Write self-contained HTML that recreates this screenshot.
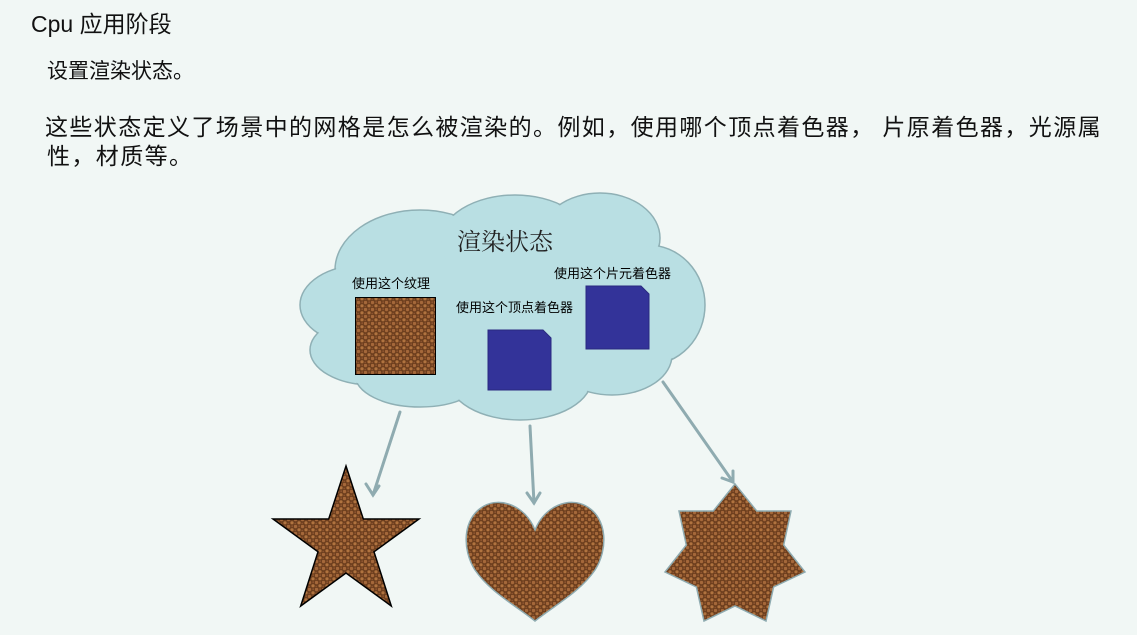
<!DOCTYPE html>
<html><head><meta charset="utf-8"><style>
html,body{margin:0;padding:0;background:#f1f7f5;}
body{width:1137px;height:635px;overflow:hidden;position:relative;font-family:"Liberation Sans","Noto Sans CJK SC",sans-serif;color:#111;}
.t{position:absolute;white-space:nowrap;font-size:20px;line-height:1;}
svg{position:absolute;left:0;top:0;}
</style></head><body>
<svg width="1137" height="635" viewBox="0 0 1137 635">
<defs>
<pattern id="lea" width="7" height="7" patternUnits="userSpaceOnUse">
<rect width="7" height="7" fill="#6e3f1e"/>
<circle cx="1.5" cy="1.5" r="1.7" fill="#a5683a"/>
<circle cx="5" cy="4.8" r="1.6" fill="#b0733f"/>
<circle cx="5.2" cy="1.2" r="0.9" fill="#8e5530"/>
<circle cx="1.2" cy="5.5" r="0.8" fill="#8e5530"/>
</pattern>
</defs>
<g fill="#b9dfe3" stroke="#8fb0b5" stroke-width="1.5">
<ellipse cx="420" cy="270" rx="85" ry="60"/>
<ellipse cx="515" cy="242" rx="75" ry="47"/>
<ellipse cx="600" cy="238" rx="60" ry="45"/>
<ellipse cx="648" cy="305" rx="57" ry="60"/>
<ellipse cx="362" cy="305" rx="62" ry="40"/>
<ellipse cx="372" cy="350" rx="62" ry="35"/>
<ellipse cx="420" cy="375" rx="65" ry="32"/>
<ellipse cx="520" cy="378" rx="72" ry="42"/>
<ellipse cx="612" cy="355" rx="60" ry="40"/>
</g>
<g fill="#b9dfe3">
<ellipse cx="420" cy="270" rx="84" ry="59"/>
<ellipse cx="515" cy="242" rx="74" ry="46"/>
<ellipse cx="600" cy="238" rx="59" ry="44"/>
<ellipse cx="648" cy="305" rx="56" ry="59"/>
<ellipse cx="362" cy="305" rx="61" ry="39"/>
<ellipse cx="372" cy="350" rx="61" ry="34"/>
<ellipse cx="420" cy="375" rx="64" ry="31"/>
<ellipse cx="520" cy="378" rx="71" ry="41"/>
<ellipse cx="612" cy="355" rx="59" ry="39"/>
<rect x="380" y="260" width="260" height="120"/>
</g>
<text x="457" y="250" font-family="'Noto Serif CJK SC',serif" font-size="24" fill="#222">渲染状态</text>
<g font-family="'Noto Sans CJK SC',sans-serif" font-size="13" fill="#000">
<text x="352" y="288">使用这个纹理</text>
<text x="456" y="312">使用这个顶点着色器</text>
<text x="554" y="278">使用这个片元着色器</text>
</g>
<rect x="355.5" y="297.5" width="80" height="77" fill="url(#lea)" stroke="#000" stroke-width="1"/>
<polygon points="488,330 543,330 551,338 551,390 488,390" fill="#333399" stroke="#2a2a80"/>
<polygon points="586,286 641,286 649,294 649,349 586,349" fill="#333399" stroke="#2a2a80"/>
<g stroke="#8fabb0" stroke-width="3" fill="none" stroke-linecap="round">
<line x1="400" y1="412" x2="373" y2="495"/>
<polyline points="366,484 373,495 379,486"/>
<line x1="530" y1="426" x2="534" y2="503"/>
<polyline points="527,493 534,503 540,493"/>
<line x1="663" y1="382" x2="733" y2="482"/>
<polyline points="722,478 733,482 733,471"/>
</g>
<polygon points="346,466 363.3,519 419,519 374,551.8 391.3,606 346,573 300.7,606 318,551.8 273,519 328.7,519" fill="url(#lea)" stroke="#000" stroke-width="1.5"/>
<path d="M535,530 C525,505 500,497 484,506 C462,518 462,550 475,570 C490,592 515,605 535,621 C555,605 580,592 595,570 C608,550 608,518 586,506 C570,497 545,505 535,530 Z" fill="url(#lea)" stroke="#8fabb0" stroke-width="1.5"/>
<polygon fill="url(#lea)" stroke="#8fabb0" stroke-width="1.5" points="735,484 756.7,511 791,511 783.7,545 805,572 773.6,587 766,621 735,606 704,621 696.4,587 665,572 686.3,545 679,511 713.3,511"/>
</svg>
<div class="t" style="left:31px;top:13px;font-size:23px;">Cpu 应用阶段</div>
<div class="t" style="left:47px;top:61px;font-size:21px;">设置渲染状态。</div>
<div class="t" style="left:45px;top:116px;font-size:23px;letter-spacing:1.4px;">这些状态定义了场景中的网格是怎么被渲染的。例如，使用哪个顶点着色器， 片原着色器，光源属</div>
<div class="t" style="left:47px;top:145px;font-size:23px;letter-spacing:1.4px;">性，材质等。</div>
</body></html>
